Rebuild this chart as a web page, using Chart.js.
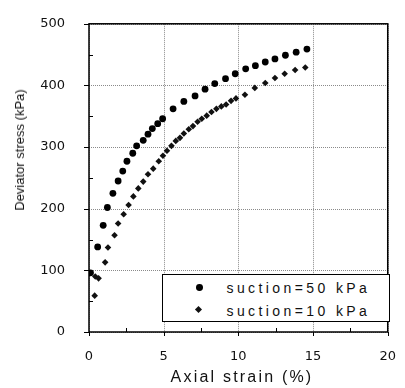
<!DOCTYPE html>
<html>
<head>
<meta charset="utf-8">
<script src="https://cdn.jsdelivr.net/npm/chart.js@4/dist/chart.umd.min.js"></script>
<style>
html,body{margin:0;padding:0;background:#fff;}
#wrap{position:relative;width:405px;height:388px;overflow:hidden;}
#under{position:absolute;left:0;top:0;z-index:0;}
#c{position:absolute;left:0;top:0;z-index:1;}
.t{position:absolute;white-space:nowrap;color:#111;z-index:2;}
#xt{left:142px;top:368px;width:200px;text-align:center;font:16px/18px "Liberation Sans",Arial,sans-serif;letter-spacing:2.2px;}
#yt{left:20px;top:150px;transform:translate(-50%,-50%) rotate(-90deg);font:13px/14px "Liberation Sans",Arial,sans-serif;}
#lg{position:absolute;z-index:2;left:162px;top:274px;width:228px;height:48px;box-sizing:border-box;border:1.5px solid #000;background:#fff;}
.lt{position:absolute;left:63.5px;font:14px/16px "Liberation Sans",Arial,sans-serif;letter-spacing:3.4px;color:#111;white-space:nowrap;}
.m1{position:absolute;left:33.1px;top:9.1px;width:6.8px;height:6.8px;border-radius:50%;background:#000;}
.m2{position:absolute;left:33px;top:32px;width:5px;height:5px;background:#111;transform:rotate(45deg);}
</style>
</head>
<body>
<div id="wrap">
<canvas id="under" width="405" height="388"></canvas>
<canvas id="c" width="405" height="388"></canvas>
<div class="t" id="xt"></div>
<div class="t" id="yt"></div>
<div id="lg"><div class="m1"></div><div class="lt" id="l1" style="top:4.5px"></div><div class="m2"></div><div class="lt" id="l2" style="top:27.5px"></div></div>
</div>
<script>
// Data
const strain50 = [0.1,0.58,0.95,1.23,1.6,1.95,2.26,2.54,2.93,3.19,3.63,3.95,4.24,4.6,4.93,5.63,6.35,7.1,7.77,8.42,9.14,9.79,10.49,11.14,11.8,12.45,13.15,13.87,14.59];
const stress50 = [96,138,173,202,225,245,261,277,290,302,311,321,330,338,346,362,374,383,394,403,411,419,427,432,438,443,449,454,459];
const strain10 = [0.38,0.42,0.64,1.08,1.27,1.71,1.95,2.32,2.65,2.97,3.3,3.63,3.95,4.3,4.67,4.95,5.22,5.52,5.81,6.09,6.35,6.68,6.96,7.27,7.55,7.88,8.2,8.53,8.86,9.18,9.51,9.84,10.44,11.1,11.8,12.45,13.1,13.8,14.48];
const stress10 = [59,90,87,113,137,157,176,191,206,220,233,244,256,265,277,286,294,302,310,315,322,329,334,341,346,351,357,362,366,369,375,379,385,396,404,412,419,425,429];
const seriesLabels = ['suction=50 kPa','suction=10 kPa'];
const xTitle = 'Axial strain (%)';
const yTitle = 'Deviator stress (kPa)';
const xMajor = [0, 5, 10, 15, 20];
const yMajor = [0, 100, 200, 300, 400, 500];
const xMinor = [2.5, 7.5, 12.5, 17.5];
const yMinor = [50, 150, 250, 350, 450];

document.getElementById('xt').textContent = xTitle;
document.getElementById('yt').textContent = yTitle;
document.getElementById('l1').textContent = seriesLabels[0];
document.getElementById('l2').textContent = seriesLabels[1];

const pts = (xs, ys) => xs.map((x, i) => ({x: x, y: ys[i]}));

function hline(ctx, x1, x2, y) { ctx.moveTo(x1, y); ctx.lineTo(x2, y); }
function vline(ctx, x, y1, y2) { ctx.moveTo(x, y1); ctx.lineTo(x, y2); }

function drawFrame(chart) {
  const ctx = document.getElementById('under').getContext('2d');
  const xs = chart.scales.x, ys = chart.scales.y;
  const L = xs.getPixelForValue(xs.min), R = xs.getPixelForValue(xs.max);
  const T = ys.getPixelForValue(ys.max), B = ys.getPixelForValue(ys.min);
  ctx.clearRect(0, 0, 405, 388);
  // dotted grid
  ctx.strokeStyle = '#8a8a8a';
  ctx.lineWidth = 1;
  ctx.setLineDash([1, 1]);
  ctx.beginPath();
  xMajor.forEach(v => vline(ctx, Math.round(xs.getPixelForValue(v)) + 0.5, T, B));
  yMajor.forEach(v => hline(ctx, L, R, Math.round(ys.getPixelForValue(v)) + 0.5));
  ctx.stroke();
  ctx.setLineDash([]);
  // frame
  ctx.strokeStyle = '#000';
  ctx.lineWidth = 1.5;
  ctx.strokeRect(L, T, R - L, B - T);
  // ticks
  ctx.lineWidth = 1;
  ctx.beginPath();
  xMajor.forEach(v => vline(ctx, Math.round(xs.getPixelForValue(v)) + 0.5, B, B + 4));
  yMajor.forEach(v => hline(ctx, L - 5, L, Math.round(ys.getPixelForValue(v)) + 0.5));
  xMinor.forEach(v => vline(ctx, Math.round(xs.getPixelForValue(v)) + 0.5, B, B - 4));
  yMinor.forEach(v => hline(ctx, L, L + 4, Math.round(ys.getPixelForValue(v)) + 0.5));
  ctx.stroke();
}

const chart = new Chart(document.getElementById('c'), {
  type: 'scatter',
  data: {
    datasets: [
      {label: seriesLabels[0], data: pts(strain50, stress50), pointStyle: 'circle', pointRadius: 3.4, backgroundColor: '#000', borderColor: '#000', borderWidth: 0},
      {label: seriesLabels[1], data: pts(strain10, stress10), pointStyle: 'rectRot', pointRadius: 3.3, backgroundColor: '#111', borderColor: '#111', borderWidth: 0}
    ]
  },
  options: {
    responsive: false,
    animation: false,
    events: [],
    layout: {padding: {top: 17, right: 10, left: 0, bottom: 0}},
    plugins: {legend: {display: false}, tooltip: {enabled: false}},
    scales: {
      x: {
        type: 'linear', min: 0, max: 20,
        afterFit(s) { s.height = 56; },
        ticks: {stepSize: 5, color: '#111', padding: 9, font: {family: '"DejaVu Sans", sans-serif', size: 13}},
        grid: {display: false},
        border: {display: false}
      },
      y: {
        type: 'linear', min: 0, max: 500,
        afterFit(s) { s.width = 89; },
        ticks: {stepSize: 100, color: '#111', padding: 16, font: {family: '"DejaVu Sans", sans-serif', size: 13}},
        grid: {display: false},
        border: {display: false}
      }
    }
  },
  plugins: [{id: 'under', afterRender(c) { drawFrame(c); }}]
});
drawFrame(chart);
</script>
</body>
</html>
